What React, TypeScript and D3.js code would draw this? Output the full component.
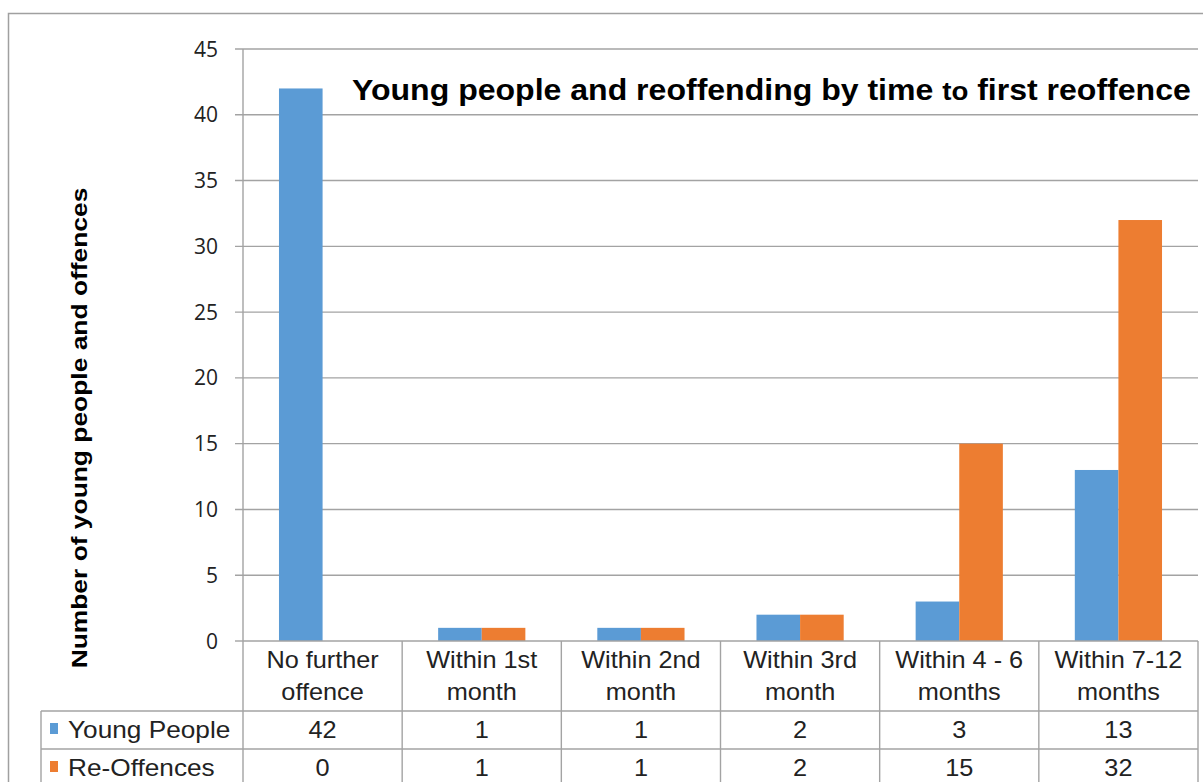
import React from 'react'
import * as d3 from 'd3'

// categories (two-line labels), series and ticks
const categories = [
  ['No further', 'offence'],
  ['Within 1st', 'month'],
  ['Within 2nd', 'month'],
  ['Within 3rd', 'month'],
  ['Within 4 - 6', 'months'],
  ['Within 7-12', 'months'],
]
const seriesNames = ['Young People', 'Re-Offences']
const youngPeople = [42, 1, 1, 2, 3, 13]
const reOffences = [0, 1, 1, 2, 15, 32]
const yTicks = [0, 5, 10, 15, 20, 25, 30, 35, 40, 45]
const colors = ['#5B9BD5', '#ED7D31']

const W = 1203
const H = 782
const margin = { top: 49, right: 5, bottom: 141, left: 243 }
const SX = 1.1 // the reference text is a bit wide
const grid = '#a3a3a3'
const ink = '#222'
const sans = '"Liberation Sans", Arial, sans-serif'

function T({ x, y, size, anchor = 'middle', weight = 'normal', family = sans, sx = SX, rotate = 0, fill = ink, children }: any) {
  return (
    <g transform={`translate(${x},${y}) rotate(${rotate}) scale(${sx},1)`}>
      <text textAnchor={anchor} fontSize={size} fontWeight={weight} fontFamily={family} fill={fill}>
        {children}
      </text>
    </g>
  )
}

export default function App() {
  const series = [youngPeople, reOffences]
  const x0 = margin.left
  const x1 = W - margin.right
  const yTop = margin.top
  const yBase = H - margin.bottom

  const x = d3.scaleBand<number>().domain(d3.range(categories.length)).range([x0, x1])
  const xs = d3.scaleBand<number>().domain(d3.range(series.length)).range([0, x.bandwidth()]).paddingOuter(0.825)
  const y = d3.scaleLinear().domain([0, 45]).range([yBase, yTop])

  const headerBottom = yBase + 70
  const rowH = 38
  const tableLeft = 41

  return (
    <svg width={W} height={H} style={{ position: 'absolute', left: 0, top: 0, background: '#fff' }}>
      <rect x={8.5} y={13.5} width={W + 10} height={H + 10} fill="none" stroke="#a0a0a0" strokeWidth={1.5} />

      {/* gridlines and ticks */}
      {yTicks.map((t) => (
        <g key={t}>
          <line x1={x0 - 8} x2={t === 0 ? x0 : x1} y1={y(t)} y2={y(t)} stroke={grid} strokeWidth={1.4} />
          <T x={218} y={y(t) + 7.5} size={21} anchor="end" family='"Open Sans", sans-serif' sx={1}>
            {t}
          </T>
        </g>
      ))}

      {/* title */}
      <T x={352} y={100} size={29} anchor="start" weight="bold" fill="#000" sx={1.105}>
        Young people and reoffending by time <tspan fontSize={25}>to</tspan> first reoffence
      </T>

      {/* bars */}
      {series.map((vals, si) =>
        vals.map((v, ci) => (
          <rect
            key={`${si}-${ci}`}
            x={x(ci)! + xs(si)!}
            y={y(v)}
            width={xs.bandwidth()}
            height={yBase - y(v)}
            fill={colors[si]}
          />
        ))
      )}

      {/* data table */}
      <line x1={x0} x2={x0} y1={yTop} y2={H} stroke={grid} strokeWidth={1.4} />
      <line x1={x0} x2={x1} y1={yBase} y2={yBase} stroke={grid} strokeWidth={1.4} />
      {categories.map((_, ci) => (
        <line key={ci} x1={x(ci)! + x.bandwidth()} x2={x(ci)! + x.bandwidth()} y1={yBase} y2={H} stroke={grid} strokeWidth={1.4} />
      ))}
      <line x1={tableLeft} x2={tableLeft} y1={headerBottom} y2={H} stroke={grid} strokeWidth={1.4} />
      {[0, 1].map((r) => (
        <line key={r} x1={tableLeft} x2={x1} y1={headerBottom + r * rowH} y2={headerBottom + r * rowH} stroke={grid} strokeWidth={1.4} />
      ))}

      {categories.map((lines, ci) => (
        <g key={ci}>
          <T x={x(ci)! + x.bandwidth() / 2} y={668} size={23}>
            {lines[0]}
          </T>
          <T x={x(ci)! + x.bandwidth() / 2} y={700} size={23}>
            {lines[1]}
          </T>
        </g>
      ))}

      {series.map((vals, si) => (
        <g key={si}>
          <rect x={50} y={headerBottom + si * rowH + 12} width={8} height={11} fill={colors[si]} />
          <T x={68} y={headerBottom + si * rowH + 27} size={23} anchor="start" sx={1.14}>
            {seriesNames[si]}
          </T>
          {vals.map((v, ci) => (
            <T key={ci} x={x(ci)! + x.bandwidth() / 2} y={headerBottom + si * rowH + 27} size={23}>
              {v}
            </T>
          ))}
        </g>
      ))}

      {/* y axis title */}
      <T x={87} y={428} size={22} weight="bold" rotate={-90} sx={1.2} fill="#000">
        Number of young people and offences
      </T>
    </svg>
  )
}
